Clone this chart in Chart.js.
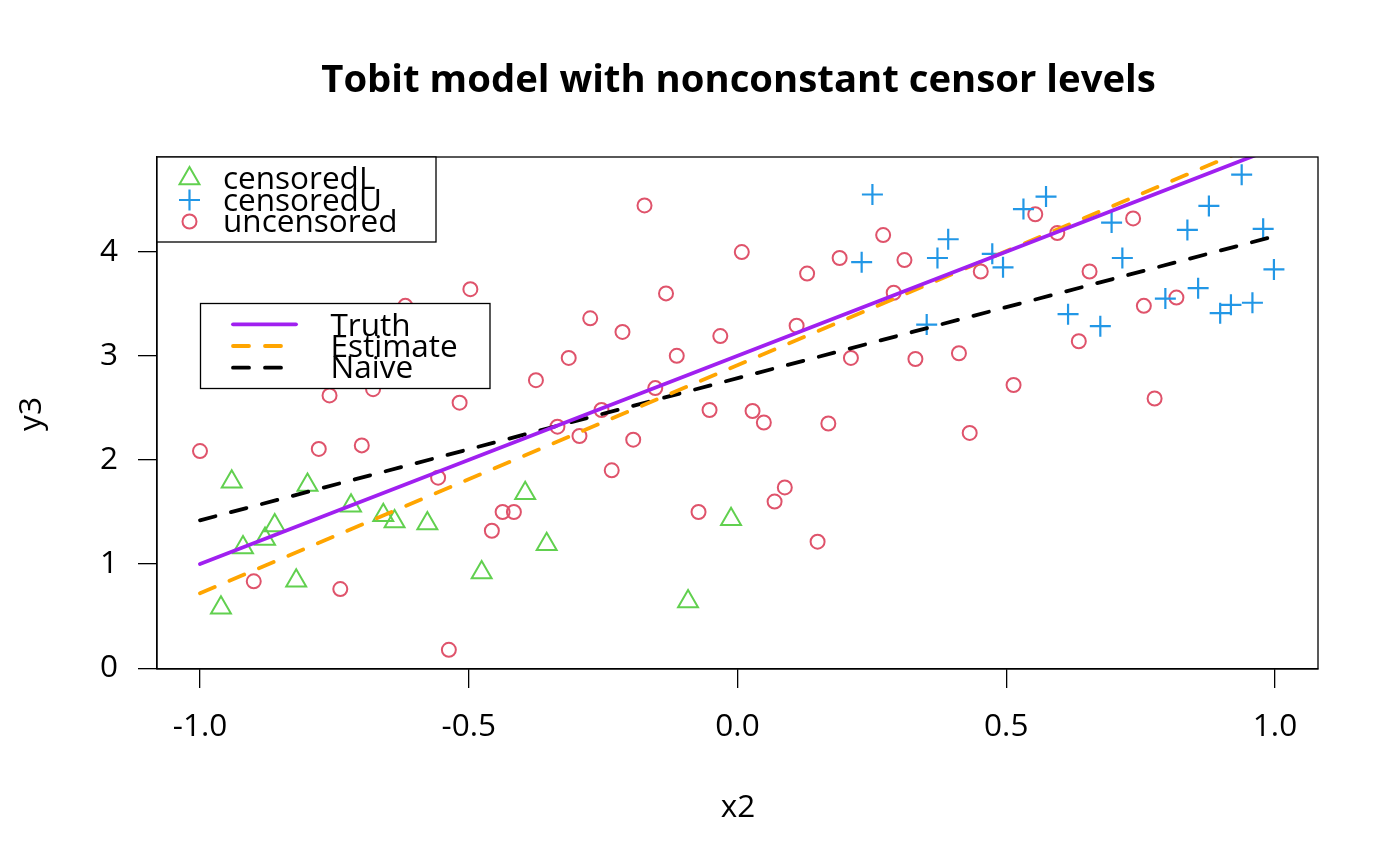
<!DOCTYPE html>
<html lang="en">
<head>
    <meta charset="UTF-8">
    <title>Tobit model with nonconstant censor levels</title>
    <script src="https://cdn.jsdelivr.net/npm/chart.js"></script>
    <style>
        body { margin: 0; background: #fff; }
        #tobit { display: block; }
    </style>
</head>
<body>
    <canvas id="tobit" width="1400" height="866"></canvas>

    <script>
        // points (x2, y3) by censoring status
        const censLX = [-0.961, -0.941, -0.920, -0.879, -0.861, -0.821, -0.800, -0.719, -0.659, -0.638, -0.577, -0.476, -0.395, -0.355, -0.092, -0.012];
        const censLY = [0.58, 1.79, 1.16, 1.24, 1.37, 0.84, 1.76, 1.56, 1.47, 1.41, 1.39, 0.92, 1.68, 1.19, 0.64, 1.43];

        const censUX = [0.231, 0.251, 0.352, 0.372, 0.392, 0.474, 0.494, 0.532, 0.574, 0.615, 0.675, 0.696, 0.716, 0.796, 0.837, 0.857, 0.877, 0.898, 0.918, 0.938, 0.958, 0.978, 0.998];
        const censUY = [3.90, 4.55, 3.30, 3.94, 4.12, 3.98, 3.85, 4.41, 4.53, 3.40, 3.285, 4.28, 3.94, 3.55, 4.21, 3.65, 4.44, 3.41, 3.49, 4.74, 3.51, 4.22, 3.83];

        const uncX = [-1.0, -0.900, -0.779, -0.759, -0.739, -0.699, -0.678, -0.618, -0.557, -0.537, -0.517, -0.497, -0.457, -0.437, -0.416, -0.375, -0.335, -0.314, -0.294, -0.274, -0.253, -0.234, -0.214, -0.194, -0.173, -0.153, -0.133, -0.113, -0.0725, -0.052, -0.032, 0.008, 0.028, 0.049, 0.069, 0.088, 0.110, 0.1295, 0.149, 0.169, 0.190, 0.211, 0.271, 0.2906, 0.3106, 0.331, 0.412, 0.432, 0.4526, 0.5136, 0.554, 0.595, 0.635, 0.655, 0.736, 0.756, 0.776, 0.8166];
        const uncY = [2.085, 0.834, 2.106, 2.62, 0.76, 2.14, 2.68, 3.48, 1.83, 0.176, 2.55, 3.64, 1.32, 1.50, 1.50, 2.766, 2.32, 2.98, 2.23, 3.36, 2.48, 1.90, 3.23, 2.195, 4.445, 2.69, 3.60, 3.00, 1.50, 2.48, 3.19, 3.997, 2.47, 2.36, 1.60, 1.736, 3.29, 3.79, 1.215, 2.35, 3.94, 2.98, 4.16, 3.606, 3.92, 2.97, 3.025, 2.26, 3.81, 2.72, 4.36, 4.18, 3.14, 3.81, 4.32, 3.48, 2.59, 3.56];

        // fitted lines, ends at x2 = -1 and 1
        const lineX = [-1, 1];
        const truthY = [1.0, 5.0];
        const estimateY = [0.72, 5.10];
        const naiveY = [1.42, 4.15];

        const xTicks = [-1.0, -0.5, 0.0, 0.5, 1.0];
        const yTicks = [0, 1, 2, 3, 4];

        const pointLabels = ['censoredL', 'censoredU', 'uncensored'];
        const lineLabels = ['Truth', 'Estimate', 'Naive'];

        const GREEN = '#61D04F', BLUE = '#2297E6', RED = '#DF536B';
        const PURPLE = '#A020F0', ORANGE = '#FFA500';
        const FONT = '"Open Sans", "Noto Sans", sans-serif';

        const toXY = (xs, ys) => xs.map((x, i) => ({ x: x, y: ys[i] }));

        function lineSet(label, ys, color, dash) {
            return {
                type: 'line', label: label, data: toXY(lineX, ys),
                borderColor: color, borderWidth: 3.8, borderDash: dash,
                borderCapStyle: 'round', pointRadius: 0, fill: false,
                showLine: true, clip: 0, order: 0
            };
        }

        // R-style decorations: box, title, axis labels and the two legends
        const rDecor = {
            id: 'rDecor',
            afterDatasetsDraw(chart) {
                const c = chart.ctx, a = chart.chartArea;
                c.save();
                c.strokeStyle = '#000';
                c.lineWidth = 1.3;
                c.strokeRect(a.left, a.top, a.right - a.left, a.bottom - a.top);

                c.fillStyle = '#000';
                c.textAlign = 'center';
                c.textBaseline = 'alphabetic';
                c.font = 'bold 38.3px ' + FONT;
                c.fillText('Tobit model with nonconstant censor levels', 738.5, 92);
                c.font = '31.5px ' + FONT;
                c.fillText('x2', 738, 817);
                c.save();
                c.translate(41, 414);
                c.rotate(-Math.PI / 2);
                c.fillText('y3', 0, 0);
                c.restore();

                // legend of point types
                c.fillStyle = '#fff';
                c.fillRect(157, 157, 279, 85);
                c.strokeRect(157, 157, 279, 85);
                const my = [178.5, 200, 221.5], ty = [189, 210.5, 232];
                c.lineWidth = 2;
                c.strokeStyle = GREEN;
                c.beginPath();
                const r = 11.5, cx = 189.5;
                c.moveTo(cx, my[0] - r);
                c.lineTo(cx + r * Math.sin(2 * Math.PI / 3), my[0] + r / 2);
                c.lineTo(cx - r * Math.sin(2 * Math.PI / 3), my[0] + r / 2);
                c.closePath();
                c.stroke();
                c.strokeStyle = BLUE;
                c.lineWidth = 2.2;
                c.beginPath();
                c.moveTo(cx - 10.5, my[1]); c.lineTo(cx + 10.5, my[1]);
                c.moveTo(cx, my[1] - 10.5); c.lineTo(cx, my[1] + 10.5);
                c.stroke();
                c.strokeStyle = RED;
                c.lineWidth = 2;
                c.beginPath();
                c.arc(cx, my[2], 7, 0, Math.PI * 2);
                c.stroke();
                c.fillStyle = '#000';
                c.textAlign = 'left';
                pointLabels.forEach((t, i) => c.fillText(t, 223, ty[i]));

                // legend of fitted lines
                c.strokeStyle = '#000';
                c.lineWidth = 1.3;
                c.fillStyle = '#fff';
                c.fillRect(200.5, 303.5, 289.5, 85);
                c.strokeRect(200.5, 303.5, 289.5, 85);
                const ly = [324.3, 346, 367.7], lty = [336, 357.3, 378.3];
                const cols = [PURPLE, ORANGE, '#000'];
                const dashes = [[], [16, 16], [16, 16]];
                c.lineCap = 'round';
                cols.forEach((col, i) => {
                    c.strokeStyle = col;
                    c.lineWidth = 3.8;
                    c.setLineDash(dashes[i]);
                    c.beginPath();
                    c.moveTo(233, ly[i]);
                    c.lineTo(296, ly[i]);
                    c.stroke();
                });
                c.setLineDash([]);
                c.fillStyle = '#000';
                lineLabels.forEach((t, i) => c.fillText(t, 330.5, lty[i]));
                c.restore();
            }
        };

        const axisCommon = {
            type: 'linear',
            grid: { drawOnChartArea: false, drawTicks: true, tickLength: 19, color: '#000', lineWidth: 1.3 },
            border: { display: true, color: '#000', width: 1.3 },
        };

        new Chart(document.getElementById('tobit').getContext('2d'), {
            type: 'scatter',
            data: {
                datasets: [
                    lineSet('Truth', truthY, PURPLE, []),
                    lineSet('Estimate', estimateY, ORANGE, [16, 16]),
                    lineSet('Naive', naiveY, '#000', [16, 16]),
                    {
                        label: 'censoredL', data: toXY(censLX, censLY), pointStyle: 'triangle',
                        pointRadius: 11.5, borderColor: GREEN, backgroundColor: 'rgba(0,0,0,0)',
                        borderWidth: 2, order: 1
                    },
                    {
                        label: 'censoredU', data: toXY(censUX, censUY), pointStyle: 'cross',
                        pointRadius: 10.5, borderColor: BLUE, backgroundColor: 'rgba(0,0,0,0)',
                        borderWidth: 2.2, order: 1
                    },
                    {
                        label: 'uncensored', data: toXY(uncX, uncY), pointStyle: 'circle',
                        pointRadius: 7, borderColor: RED, backgroundColor: 'rgba(0,0,0,0)',
                        borderWidth: 2, order: 1
                    }
                ]
            },
            options: {
                responsive: false,
                animation: false,
                devicePixelRatio: 1,
                layout: { padding: { top: 157, right: 82, left: 0, bottom: 0 } },
                plugins: { legend: { display: false }, tooltip: { enabled: false }, title: { display: false } },
                scales: {
                    x: Object.assign({}, axisCommon, {
                        min: -1.08, max: 1.08,
                        afterFit(s) { s.height = 197; },
                        afterBuildTicks(s) { s.ticks = xTicks.map(v => ({ value: v })); },
                        ticks: {
                            autoSkip: false, maxRotation: 0, padding: 20, color: '#000',
                            font: { family: FONT, size: 31.5 },
                            callback: v => v.toFixed(1)
                        }
                    }),
                    y: Object.assign({}, axisCommon, {
                        min: -0.008, max: 4.91,
                        afterFit(s) { s.width = 157; },
                        afterBuildTicks(s) { s.ticks = yTicks.map(v => ({ value: v })); },
                        ticks: {
                            autoSkip: false, padding: 20, color: '#000',
                            font: { family: FONT, size: 31.5 },
                            callback: v => String(v)
                        }
                    })
                }
            },
            plugins: [rDecor]
        });
    </script>
</body>
</html>
